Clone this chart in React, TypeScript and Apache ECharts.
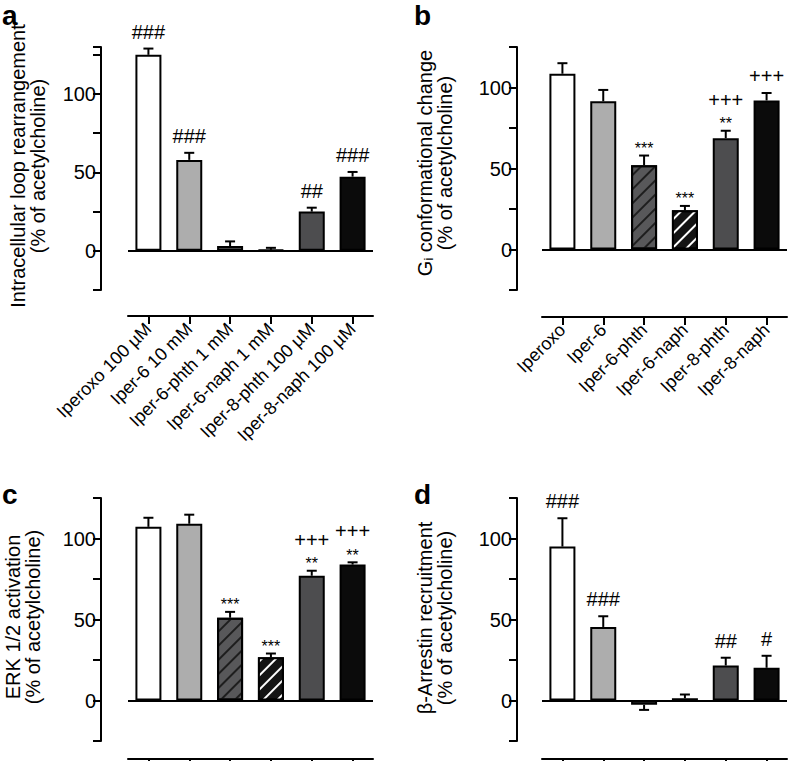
import React, { useEffect, useRef } from 'react';
import * as echarts from 'echarts';

const FONT = '"Liberation Sans", Arial, Helvetica, sans-serif';

const categoriesA = ['Iperoxo 100 µM', 'Iper-6 10 mM', 'Iper-6-phth 1 mM', 'Iper-6-naph 1 mM', 'Iper-8-phth 100 µM', 'Iper-8-naph 100 µM'];
const categoriesB = ['Iperoxo', 'Iper-6', 'Iper-6-phth', 'Iper-6-naph', 'Iper-8-phth', 'Iper-8-naph'];

const valuesA = [125, 58, 3, 0.6, 25, 47.3];
const errorsA = [4, 4.5, 3, 1.3, 2.5, 3];
const upperA = ['###', '###', '', '', '##', '###'];
const starsA = ['', '', '', '', '', ''];

const valuesB = [108.5, 91.5, 52, 24.2, 68.7, 92];
const errorsB = [6.5, 7, 6, 2.7, 4.6, 4.6];
const upperB = ['', '', '', '', '+++', '+++'];
const starsB = ['', '', '***', '***', '**', ''];

const valuesC = [107.2, 109.1, 51.1, 26.7, 77, 83.9];
const errorsC = [5.6, 5.6, 3.6, 2.3, 3.1, 1.4];
const upperC = ['', '', '', '', '+++', '+++'];
const starsC = ['', '', '***', '***', '**', '**'];

const valuesD = [95, 45.4, -2.7, 1.4, 21.6, 20.2];
const errorsD = [17.5, 6.6, 3.1, 2.3, 4.8, 7.4];
const upperD = ['###', '###', '', '', '##', '#'];
const starsD = ['', '', '', '', '', ''];

const yLabelValues = [0, 50, 100];

const fills = ['#ffffff', '#adadad', '#58585a', '#141414', '#4d4d4f', '#0b0b0b'];

type Panel = {
  cats: string[];
  values: number[];
  errors: number[];
  upper: string[];
  stars: string[];
  max: number;
  hatch: boolean;
  showLabels: boolean;
  grid: { left: number; top: number; width: number; height: number };
  yOffset: number;
  xOffset: number;
};

const panels: Panel[] = [
  { cats: categoriesA, values: valuesA, errors: errorsA, upper: upperA, stars: starsA, max: 130, hatch: false, showLabels: true,
    grid: { left: 128, top: 47, width: 245, height: 243 }, yOffset: 27, xOffset: 26 },
  { cats: categoriesB, values: valuesB, errors: errorsB, upper: upperB, stars: starsB, max: 125, hatch: true, showLabels: true,
    grid: { left: 542, top: 47, width: 245, height: 243 }, yOffset: 25, xOffset: 27 },
  { cats: categoriesB, values: valuesC, errors: errorsC, upper: upperC, stars: starsC, max: 125, hatch: true, showLabels: false,
    grid: { left: 128, top: 498, width: 245, height: 243 }, yOffset: 27, xOffset: 18 },
  { cats: categoriesB, values: valuesD, errors: errorsD, upper: upperD, stars: starsD, max: 125, hatch: false, showLabels: false,
    grid: { left: 542, top: 498, width: 245, height: 243 }, yOffset: 25, xOffset: 18 },
];

function hatchDecal(color: string) {
  return {
    symbol: 'rect',
    symbolSize: 1,
    dashArrayX: [1, 0],
    dashArrayY: [1.8, 7.5],
    rotation: -Math.PI / 4,
    color,
  };
}

export default function App() {
  const ref = useRef<HTMLDivElement>(null);
  useEffect(() => {
    if (!ref.current) return;
    const chart = echarts.init(ref.current, null, { renderer: 'svg' });

    const grid = panels.map((p) => ({ ...p.grid, containLabel: false, outerBoundsMode: 'none' }));
    const xAxis = panels.map((p, i) => ({
      type: 'category',
      gridIndex: i,
      data: p.cats,
      position: 'bottom',
      offset: p.xOffset,
      axisLine: { show: true, onZero: false, lineStyle: { color: '#000', width: 2 } },
      axisTick: { show: true, alignWithLabel: true, length: 8, lineStyle: { color: '#000', width: 2 } },
      axisLabel: { show: p.showLabels, rotate: 45, margin: 10, interval: 0, fontSize: 18, color: '#000', fontFamily: FONT },
      splitLine: { show: false },
    }));
    const yAxis = panels.map((p, i) => ({
      type: 'value',
      gridIndex: i,
      min: -25,
      max: p.max,
      interval: 25,
      offset: p.yOffset,
      axisLine: { show: true, lineStyle: { color: '#000', width: 2 } },
      axisTick: { show: true, length: 8, lineStyle: { color: '#000', width: 2 } },
      axisLabel: {
        margin: 5,
        fontSize: 20,
        color: '#000',
        fontFamily: FONT,
        formatter: (v: number) => (yLabelValues.includes(v) ? String(v) : ''),
      },
      splitLine: { show: false },
    }));

    const series: any[] = [];
    panels.forEach((p, i) => {
      series.push({
        type: 'bar',
        xAxisIndex: i,
        yAxisIndex: i,
        barWidth: 26,
        data: p.values.map((v, k) => {
          const item: any = { value: v, itemStyle: { color: fills[k], borderColor: '#000', borderWidth: 2 } };
          if (p.hatch && k === 2) item.itemStyle.decal = hatchDecal('#1e1e1e');
          if (p.hatch && k === 3) item.itemStyle.decal = hatchDecal('#ffffff');
          return item;
        }),
        markLine: {
          silent: true,
          symbol: ['none', 'none'],
          label: { show: false },
          lineStyle: { color: '#000', width: 2, type: 'solid' },
          data: [{ yAxis: 0 }],
        },
        z: 2,
      });
      series.push({
        type: 'custom',
        xAxisIndex: i,
        yAxisIndex: i,
        data: p.values.map((v, k) => [k, v, p.errors[k]]),
        z: 3,
        renderItem: (params: any, api: any) => {
          const k = params.dataIndex;
          const idx = api.value(0);
          const v = api.value(1);
          const e = api.value(2);
          const dir = v >= 0 ? 1 : -1;
          const p0 = api.coord([idx, v]);
          const p1 = api.coord([idx, v + dir * e]);
          const cap = 5;
          const children: any[] = [
            { type: 'line', shape: { x1: p0[0], y1: p0[1], x2: p1[0], y2: p1[1] }, style: { stroke: '#000', lineWidth: 2 } },
            { type: 'line', shape: { x1: p1[0] - cap, y1: p1[1], x2: p1[0] + cap, y2: p1[1] }, style: { stroke: '#000', lineWidth: 2 } },
          ];
          const st = p.stars[k];
          const up = p.upper[k];
          let yy = p1[1];
          if (st) {
            children.push({
              type: 'text', x: p1[0], y: yy - 7,
              style: { text: st, font: `16px ${FONT}`, fill: '#000', align: 'center', verticalAlign: 'middle' },
            });
            yy = yy - 14;
          }
          if (up) {
            children.push({
              type: 'text', x: p1[0], y: yy - 17,
              style: { text: up, font: `20px ${FONT}`, fill: '#000', align: 'center', verticalAlign: 'middle' },
            });
          }
          return { type: 'group', children };
        },
      });
    });

    const titleStyle = (text: string) => ({
      text,
      font: `20px ${FONT}`,
      fill: '#000',
      align: 'center',
      verticalAlign: 'middle',
      lineHeight: 20,
    });

    const letter = (t: string, x: number, y: number) => ({
      type: 'text', x, y,
      style: { text: t, font: `bold 28px ${FONT}`, fill: '#000', align: 'left', verticalAlign: 'top', lineHeight: 28 },
    });

    const graphic: any[] = [
      letter('a', 2, 1),
      letter('b', 414, 1),
      letter('c', 2, 480),
      letter('d', 414, 480),
      { type: 'text', x: 28, y: 166, rotation: Math.PI / 2, style: titleStyle('Intracellular loop rearrangement\n(% of acetylcholine)') },
      {
        type: 'text', x: 435, y: 163, rotation: Math.PI / 2,
        style: {
          text: '{n|G}{s|i}{n| conformational change}\n{n|(% of acetylcholine)}',
          fill: '#000',
          align: 'center',
          verticalAlign: 'middle',
          rich: {
            n: { fontSize: 20, fontFamily: FONT, lineHeight: 20, fill: '#000' },
            s: { fontSize: 13, fontFamily: FONT, lineHeight: 20, verticalAlign: 'bottom', fill: '#000' },
          },
        },
      },
      { type: 'text', x: 23, y: 617, rotation: Math.PI / 2, style: titleStyle('ERK 1/2 activation\n(% of acetylcholine)') },
      { type: 'text', x: 435, y: 618, rotation: Math.PI / 2, style: titleStyle('β-Arrestin recruitment\n(% of acetylcholine)') },
    ];

    chart.setOption({
      animation: false,
      backgroundColor: '#ffffff',
      textStyle: { fontFamily: FONT },
      grid,
      xAxis,
      yAxis,
      series,
      graphic,
    });
    return () => chart.dispose();
  }, []);
  return <div ref={ref} style={{ position: 'fixed', left: 0, top: 0, width: 788, height: 761 }} />;
}
